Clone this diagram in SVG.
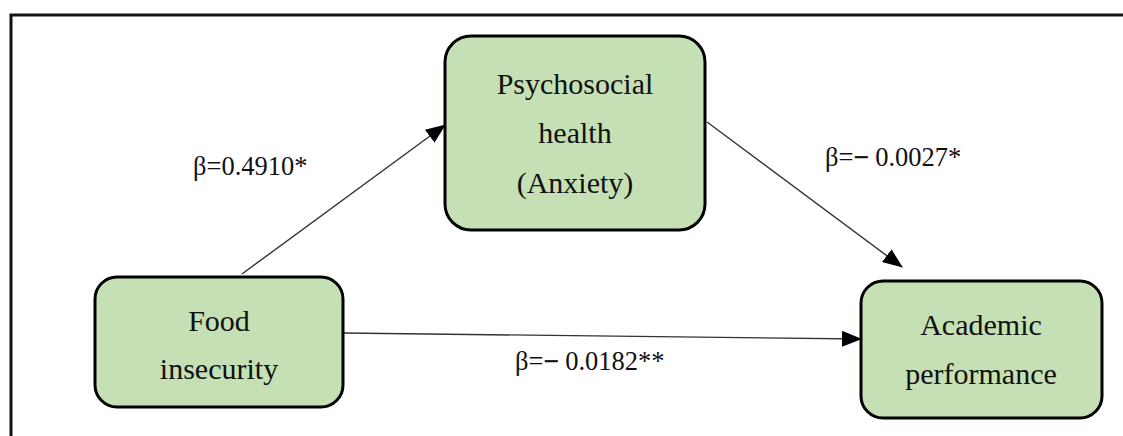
<svg xmlns="http://www.w3.org/2000/svg" width="1123" height="436" viewBox="0 0 1123 436">
<style>
.node rect{fill:#C5E0B4;stroke:#000;stroke-width:3}
.node text{font-family:"Liberation Serif","DejaVu Serif",serif;font-size:30px;fill:#111;text-anchor:middle}
.lbl{font-family:"Liberation Serif","DejaVu Serif",serif;font-size:26.5px;fill:#111}
.edge{stroke:#333;stroke-width:1.4;fill:none;marker-end:url(#arr)}
</style>
<defs>
<marker id="arr" markerUnits="userSpaceOnUse" markerWidth="20" markerHeight="16" refX="19" refY="8" orient="auto">
<path d="M0,0 L20,8 L0,16 Z" fill="#000"/>
</marker>
</defs>
<rect x="0" y="0" width="1123" height="436" fill="#fff"/>
<path d="M11,440 L11,15 L1130,15" fill="none" stroke="#111" stroke-width="3"/>
<g id="connectors">
<line class="edge" x1="242" y1="274" x2="445" y2="125"/>
<line class="edge" x1="707" y1="122" x2="902" y2="267"/>
<line class="edge" x1="343" y1="333" x2="861" y2="339"/>
</g>
<g id="psychosocial" class="node">
<rect x="445" y="36" width="260" height="194" rx="26"/>
<text x="575" y="94">Psychosocial</text>
<text x="575" y="143">health</text>
<text x="575" y="193">(Anxiety)</text>
</g>
<g id="food" class="node">
<rect x="95" y="277" width="248" height="130" rx="22"/>
<text x="219" y="331">Food</text>
<text x="219" y="379">insecurity</text>
</g>
<g id="academic" class="node">
<rect x="861" y="281" width="241" height="137" rx="22"/>
<text x="981" y="335">Academic</text>
<text x="981" y="384">performance</text>
</g>
<g id="labels">
<text class="lbl" x="193" y="175">β=0.4910*</text>
<text class="lbl" x="825" y="166">β=<tspan font-weight="bold" stroke="#111" stroke-width="0.6">−</tspan> 0.0027*</text>
<text class="lbl" x="515" y="370">β=<tspan font-weight="bold" stroke="#111" stroke-width="0.6">−</tspan> 0.0182**</text>
</g>
</svg>
